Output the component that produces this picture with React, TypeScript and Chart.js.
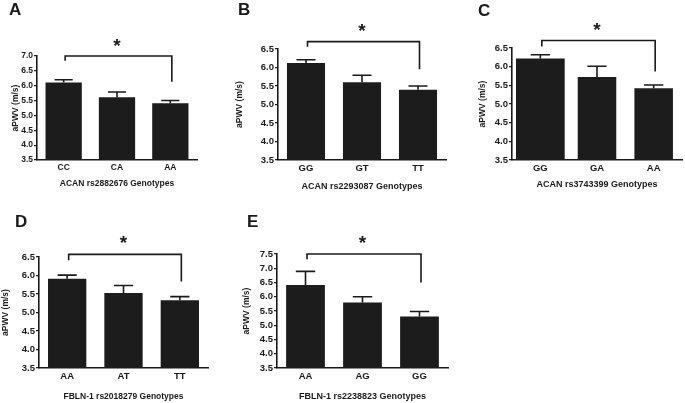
import React, { useEffect, useRef } from "react";
import { Chart, registerables } from "chart.js";

Chart.register(...registerables);

const FONT = '"Liberation Sans", Arial, Helvetica, sans-serif';
const INK = "#1a1a1a";
const BAR = "#1c1c1c";

// ---------- Panel A ----------
const aCategories = ["CC", "CA", "AA"];
const aMeans = [6.11, 5.61, 5.41];
const aUpperErr = [6.2, 5.79, 5.5];
const aYRange = [3.5, 7.0];
const aBracket = [7.0, 6.84, 6.13]; // top, left end, right end
const aStar = 7.48;
const aTitle = "ACAN rs2882676 Genotypes";

// ---------- Panel B ----------
const bCategories = ["GG", "GT", "TT"];
const bMeans = [6.12, 5.6, 5.4];
const bUpperErr = [6.21, 5.79, 5.5];
const bYRange = [3.5, 6.5];
const bBracket = [6.7, 6.56, 5.95];
const bStar = 7.1;
const bTitle = "ACAN rs2293087 Genotypes";

// ---------- Panel C ----------
const cCategories = ["GG", "GA", "AA"];
const cMeans = [6.22, 5.72, 5.42];
const cUpperErr = [6.32, 6.01, 5.51];
const cYRange = [3.5, 6.5];
const cBracket = [6.7, 6.54, 5.87];
const cStar = 7.1;
const cTitle = "ACAN rs3743399 Genotypes";

// ---------- Panel D ----------
const dCategories = ["AA", "AT", "TT"];
const dMeans = [5.91, 5.53, 5.33];
const dUpperErr = [6.01, 5.73, 5.43];
const dYRange = [3.5, 6.5];
const dBracket = [6.57, 6.41, 5.84];
const dStar = 7.0;
const dTitle = "FBLN-1 rs2018279 Genotypes";

// ---------- Panel E ----------
const eCategories = ["AA", "AG", "GG"];
const eMeans = [6.41, 5.8, 5.31];
const eUpperErr = [6.89, 6.0, 5.48];
const eYRange = [3.5, 7.5];
const eBracket = [7.5, 7.32, 6.5];
const eStar = 8.05;
const eTitle = "FBLN-1 rs2238823 Genotypes";

const yAxisTitle = "aPWV (m/s)";

type Layout = {
  box: { x: number; y: number; w: number; h: number };
  area: { l: number; r: number; t: number; b: number };
  letter: { x: number; y: number };
  yTitleX: number;
  xTitleY: number;
  titleSize: number;
  tickSize: number;
  barPct: number[];
};

type Panel = {
  letter: string;
  categories: string[];
  means: number[];
  upperErr: number[];
  yRange: number[];
  bracket: number[];
  star: number;
  title: string;
  layout: Layout;
};

const STD = [0.68, 0.68, 0.68];

const panels: Panel[] = [
  {
    letter: "A", categories: aCategories, means: aMeans, upperErr: aUpperErr, yRange: aYRange,
    bracket: aBracket, star: aStar, title: aTitle,
    layout: { box: { x: 0, y: 0, w: 230, h: 200 }, area: { l: 37, r: 197, t: 56, b: 160 }, letter: { x: 9, y: 15 }, yTitleX: 15.5, xTitleY: 184, titleSize: 8.5, tickSize: 8.5, barPct: STD },
  },
  {
    letter: "B", categories: bCategories, means: bMeans, upperErr: bUpperErr, yRange: bYRange,
    bracket: bBracket, star: bStar, title: bTitle,
    layout: { box: { x: 230, y: 0, w: 225, h: 200 }, area: { l: 278, r: 446, t: 49, b: 160 }, letter: { x: 238, y: 15 }, yTitleX: 240, xTitleY: 187, titleSize: 9, tickSize: 9.5, barPct: STD },
  },
  {
    letter: "C", categories: cCategories, means: cMeans, upperErr: cUpperErr, yRange: cYRange,
    bracket: cBracket, star: cStar, title: cTitle,
    layout: { box: { x: 455, y: 0, w: 230, h: 200 }, area: { l: 512, r: 682, t: 48, b: 160 }, letter: { x: 478, y: 16 }, yTitleX: 483, xTitleY: 185, titleSize: 9, tickSize: 9.5, barPct: [0.86, 0.68, 0.68] },
  },
  {
    letter: "D", categories: dCategories, means: dMeans, upperErr: dUpperErr, yRange: dYRange,
    bracket: dBracket, star: dStar, title: dTitle,
    layout: { box: { x: 0, y: 200, w: 230, h: 203 }, area: { l: 39, r: 208, t: 257, b: 368 }, letter: { x: 15, y: 227 }, yTitleX: 5.5, xTitleY: 397, titleSize: 8.5, tickSize: 9.5, barPct: STD },
  },
  {
    letter: "E", categories: eCategories, means: eMeans, upperErr: eUpperErr, yRange: eYRange,
    bracket: eBracket, star: eStar, title: eTitle,
    layout: { box: { x: 230, y: 200, w: 225, h: 203 }, area: { l: 277, r: 448, t: 254, b: 368 }, letter: { x: 247, y: 227 }, yTitleX: 247, xTitleY: 397, titleSize: 9, tickSize: 9.5, barPct: STD },
  },
];

function makeAnnotations(p: Panel) {
  return {
    id: "annot" + p.letter,
    afterDraw(chart: any) {
      const ctx: CanvasRenderingContext2D = chart.ctx;
      const xs = chart.scales.x;
      const ys = chart.scales.y;
      const L = p.layout;
      const ox = L.box.x;
      const oy = L.box.y;
      const catW = (xs.right - xs.left) / p.categories.length;
      ctx.save();
      ctx.strokeStyle = INK;
      ctx.fillStyle = INK;
      ctx.lineWidth = 1.6;
      ctx.lineCap = "butt";

      // error bars (upper only)
      p.upperErr.forEach((e, i) => {
        const cx = xs.getPixelForValue(i);
        const yTop = ys.getPixelForValue(e);
        const yBar = ys.getPixelForValue(p.means[i]);
        const half = catW * 0.68 * 0.25;
        ctx.beginPath();
        ctx.moveTo(cx, yBar);
        ctx.lineTo(cx, yTop);
        ctx.moveTo(cx - half, yTop);
        ctx.lineTo(cx + half, yTop);
        ctx.stroke();
      });

      // significance bracket
      const x0 = xs.getPixelForValue(0) + 1.5;
      const x1 = xs.getPixelForValue(p.categories.length - 1) + 1.5;
      const yT = ys.getPixelForValue(p.bracket[0]);
      const yL = ys.getPixelForValue(p.bracket[1]);
      const yR = ys.getPixelForValue(p.bracket[2]);
      ctx.beginPath();
      ctx.moveTo(x0, yL);
      ctx.lineTo(x0, yT);
      ctx.lineTo(x1, yT);
      ctx.lineTo(x1, yR);
      ctx.stroke();

      // star
      const sx = xs.getPixelForValue(1);
      const sy = ys.getPixelForValue(p.star);
      ctx.font = `bold 19px ${FONT}`;
      ctx.textAlign = "center";
      ctx.textBaseline = "alphabetic";
      ctx.fillText("*", sx, sy + 10.5);

      // panel letter
      ctx.font = `bold 17px ${FONT}`;
      ctx.textAlign = "left";
      ctx.fillText(p.letter, L.letter.x - ox, L.letter.y - oy);

      // x axis title
      ctx.font = `bold ${L.titleSize}px ${FONT}`;
      ctx.textAlign = "center";
      ctx.textBaseline = "middle";
      ctx.fillText(p.title, (xs.left + xs.right) / 2, L.xTitleY - oy);

      // y axis title
      ctx.save();
      ctx.translate(L.yTitleX - ox, (ys.top + ys.bottom) / 2);
      ctx.rotate(-Math.PI / 2);
      ctx.font = `bold 8.5px ${FONT}`;
      ctx.textAlign = "center";
      ctx.textBaseline = "middle";
      ctx.fillText(yAxisTitle, 0, 0);
      ctx.restore();

      ctx.restore();
    },
  };
}

function buildDatasets(p: Panel) {
  const pcts = Array.from(new Set(p.layout.barPct));
  return pcts.map((pct) => ({
    data: p.means.map((m, i) => (p.layout.barPct[i] === pct ? m : null)),
    backgroundColor: BAR,
    borderWidth: 0,
    barPercentage: pct,
    categoryPercentage: 1,
    grouped: false,
  }));
}

function PanelChart({ p }: { p: Panel }) {
  const ref = useRef<HTMLCanvasElement>(null);
  const { box, area, tickSize } = p.layout;
  useEffect(() => {
    const chart = new Chart(ref.current as HTMLCanvasElement, {
      type: "bar",
      data: {
        labels: p.categories,
        datasets: buildDatasets(p) as any,
      },
      options: {
        responsive: false,
        animation: false,
        devicePixelRatio: 1,
        events: [],
        layout: {
          padding: { left: 0, top: area.t - box.y, right: box.x + box.w - area.r, bottom: 0 },
        },
        plugins: { legend: { display: false }, tooltip: { enabled: false } },
        scales: {
          x: {
            grid: { display: false, drawTicks: false },
            border: { display: true, color: INK, width: 1.6 },
            ticks: { font: { family: FONT, size: tickSize, weight: "bold" }, color: INK, padding: 3, autoSkip: false, maxRotation: 0 },
            afterFit: (s: any) => {
              s.height = box.y + box.h - area.b;
            },
          },
          y: {
            min: p.yRange[0],
            max: p.yRange[1],
            ticks: {
              stepSize: 0.5,
              autoSkip: false,
              callback: (v: any) => Number(v).toFixed(1),
              font: { family: FONT, size: tickSize, weight: "bold" },
              color: INK,
              padding: 1,
            },
            grid: { display: true, drawOnChartArea: false, drawTicks: true, tickLength: 3, color: INK, lineWidth: 1.2 },
            border: { display: true, color: INK, width: 1.6 },
            afterFit: (s: any) => {
              s.width = area.l - box.x;
            },
          },
        },
      } as any,
      plugins: [makeAnnotations(p)],
    });
    return () => chart.destroy();
  }, []);
  return (
    <canvas
      ref={ref}
      width={box.w}
      height={box.h}
      style={{ position: "absolute", left: box.x, top: box.y, width: box.w, height: box.h }}
    />
  );
}

export default function App() {
  return (
    <div style={{ position: "fixed", left: 0, top: 0, width: 685, height: 403, background: "#fff", overflow: "hidden" }}>
      {panels.map((p) => (
        <PanelChart key={p.letter} p={p} />
      ))}
    </div>
  );
}
